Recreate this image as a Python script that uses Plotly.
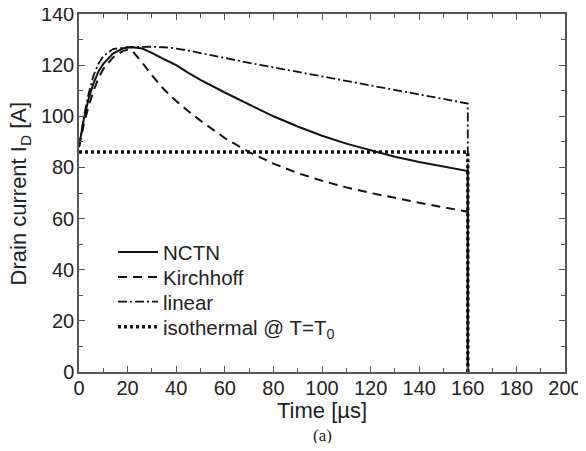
import plotly.graph_objects as go

# Time [µs]
t = [0, 2, 4, 6, 8, 10, 14, 18, 20, 22, 26, 30, 35, 40, 45, 50, 60, 70, 80, 90,
     100, 110, 120, 130, 140, 150, 160, 160]

nctn = [88, 99, 107, 113, 117.5, 120.5, 124.5, 126.5, 126.9, 127, 126.5, 124.8, 122.3, 120,
        117, 114.2, 109.3, 104.5, 100, 96, 92.4, 89.3, 86.6, 84.2, 82.1, 80.3, 78.6, 0]

kirchhoff = [88, 97, 104, 110, 115, 118.5, 123, 125.5, 126, 125.5, 121, 116, 110.5, 106,
             102, 98.3, 91.5, 86, 81.5, 77.8, 74.8, 72.2, 70, 68, 66.2, 64.4, 62.7, 0]

linear = [88, 100, 109, 116, 120.5, 123.5, 126.3, 126.9, 127, 127.1, 127.2, 127.2, 127, 126.5,
          125.7, 124.8, 122.8, 120.9, 119.1, 117.4, 115.6, 113.9, 112.1, 110.3, 108.5,
          106.8, 105, 0]

t_iso = [0, 160, 160]
iso = [86, 86, 0]

names = ["NCTN", "Kirchhoff", "linear", "isothermal @ T=T<sub>0</sub>"]

FONT = "Liberation Sans, Arial"
TXT = "#222222"
fig = go.Figure()
fig.add_trace(go.Scatter(x=t, y=nctn, mode="lines", name=names[0], legend="legend",
                         line=dict(color="#111111", width=2, dash="solid")))
fig.add_trace(go.Scatter(x=t, y=kirchhoff, mode="lines", name=names[1], legend="legend2",
                         line=dict(color="#111111", width=2, dash="9px,6px")))
fig.add_trace(go.Scatter(x=t, y=linear, mode="lines", name=names[2], legend="legend3",
                         line=dict(color="#111111", width=1.8, dash="9px,3px,2px,3px")))
fig.add_trace(go.Scatter(x=t_iso, y=iso, mode="lines", name=names[3], legend="legend4",
                         line=dict(color="#111111", width=3.5, dash="3px,3px")))

axis_common = dict(
    showline=True, linecolor="#555555", linewidth=1.5, mirror="ticks",
    ticks="inside", ticklen=6, tickwidth=1.2, tickcolor="#555555",
    showgrid=False, zeroline=False, automargin=False, ticklabeloverflow="allow",
    tickfont=dict(size=20, color=TXT, family=FONT),
    minor=dict(ticks="inside", ticklen=4, tickwidth=1, tickcolor="#555555", dtick=10),
)

fig.update_xaxes(range=[0, 200], dtick=20, tick0=0, ticklabelstandoff=-3, **axis_common)
fig.update_yaxes(range=[0, 140], dtick=20, tick0=0, ticklabelstandoff=-1, **axis_common)

fig.add_annotation(text="Time [µs]", xref="paper", yref="paper", x=0.5, y=-0.107,
                   showarrow=False, xanchor="center", yanchor="middle",
                   font=dict(size=22, color=TXT, family=FONT))
fig.add_annotation(text="Drain current I<sub>D</sub> [A]", xref="paper", yref="paper",
                   x=-0.1205, y=0.5, textangle=-90,
                   showarrow=False, xanchor="center", yanchor="middle",
                   font=dict(size=22, color=TXT, family=FONT))
fig.add_annotation(text="(a)", xref="paper", yref="paper", x=0.5, y=-0.178,
                   showarrow=False, xanchor="center", yanchor="middle",
                   font=dict(size=17, color=TXT, family="Liberation Serif, Times New Roman"))

leg = dict(x=0.07, xanchor="left", yanchor="middle", bgcolor="rgba(0,0,0,0)",
           font=dict(size=20.5, color=TXT, family=FONT), itemwidth=40)
fig.update_layout(
    width=578, height=435,
    margin=dict(l=71, r=21, t=6, b=71),
    plot_bgcolor="white", paper_bgcolor="white",
    font=dict(family=FONT, size=20, color=TXT),
    legend=dict(y=0.335, **leg),
    legend2=dict(y=0.265, **leg),
    legend3=dict(y=0.196, **leg),
    legend4=dict(y=0.126, **leg),
    showlegend=True,
)

fig.write_html("out.html")
